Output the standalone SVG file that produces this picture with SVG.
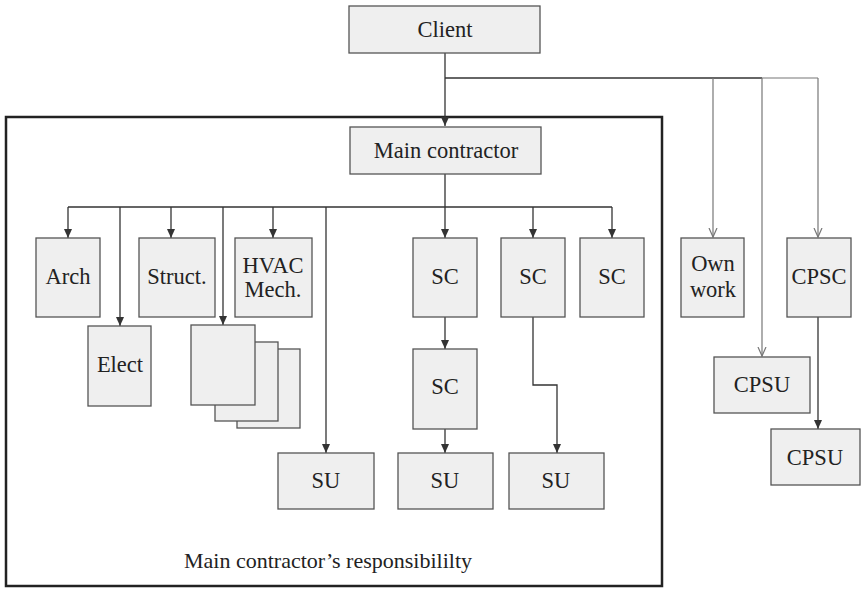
<svg xmlns="http://www.w3.org/2000/svg" width="861" height="589" viewBox="0 0 861 589">
<style>
.box{fill:#efefef;stroke:#555;stroke-width:1.3}
.lbl{font-family:"Liberation Serif","Times New Roman",serif;font-size:22.5px;fill:#222;text-anchor:middle}
.cap{font-size:22px}
.con{fill:none;stroke:#333;stroke-width:1.3}
.thin{fill:none;stroke:#777;stroke-width:1.2}
</style>
<defs>
<marker id="fa" markerUnits="userSpaceOnUse" markerWidth="10" markerHeight="9" refX="9" refY="4" orient="auto">
<path d="M0,0 L9,4 L0,8 z" fill="#333"/>
</marker>
<marker id="oa" markerUnits="userSpaceOnUse" markerWidth="11" markerHeight="11" refX="9" refY="5" orient="auto">
<path d="M0,1 L9,5 L0,9" fill="none" stroke="#777" stroke-width="1.2"/>
</marker>
</defs>
<rect id="frame" x="6" y="117" width="656" height="469" fill="none" stroke="#222" stroke-width="2.5"/>
<g id="connectors">
<path class="con" d="M445,53 V126" marker-end="url(#fa)"/>
<path class="con" d="M445,78 H762"/>
<path class="thin" d="M762,78 H818"/>
<path class="thin" d="M713,78 V237" marker-end="url(#oa)"/>
<path class="thin" d="M762,78 V356" marker-end="url(#oa)"/>
<path class="thin" d="M818,78 V237" marker-end="url(#oa)"/>
<path class="con" d="M445,174 V207 M68,207 H612"/>
<path class="con" d="M68,207 V238" marker-end="url(#fa)"/>
<path class="con" d="M120,207 V326" marker-end="url(#fa)"/>
<path class="con" d="M171,207 V238" marker-end="url(#fa)"/>
<path class="con" d="M223,207 V325" marker-end="url(#fa)"/>
<path class="con" d="M273,207 V238" marker-end="url(#fa)"/>
<path class="con" d="M326,207 V453" marker-end="url(#fa)"/>
<path class="con" d="M445,207 V238" marker-end="url(#fa)"/>
<path class="con" d="M533,207 V238" marker-end="url(#fa)"/>
<path class="con" d="M612,207 V238" marker-end="url(#fa)"/>
<path class="con" d="M445,317 V349" marker-end="url(#fa)"/>
<path class="con" d="M445,429 V453" marker-end="url(#fa)"/>
<path class="con" d="M533,317 V385 H557 V453" marker-end="url(#fa)"/>
<path class="con" d="M818,317 V429" marker-end="url(#fa)"/>
</g>
<g id="client"><rect class="box" x="349" y="6" width="191" height="47"/><text class="lbl" x="445" y="37">Client</text></g>
<g id="main"><rect class="box" x="350" y="127" width="191" height="47"/><text class="lbl" x="446" y="158">Main contractor</text></g>
<g id="arch"><rect class="box" x="36" y="238" width="64" height="79"/><text class="lbl" x="68" y="284">Arch</text></g>
<g id="struct"><rect class="box" x="139" y="238" width="76" height="79"/><text class="lbl" x="177" y="284">Struct.</text></g>
<g id="hvac"><rect class="box" x="235" y="238" width="77" height="79"/><text class="lbl" x="273" y="273">HVAC</text><text class="lbl" x="273" y="297">Mech.</text></g>
<g id="sc1"><rect class="box" x="413" y="238" width="64" height="79"/><text class="lbl" x="445" y="284">SC</text></g>
<g id="sc2"><rect class="box" x="501" y="238" width="64" height="79"/><text class="lbl" x="533" y="284">SC</text></g>
<g id="sc3"><rect class="box" x="580" y="238" width="64" height="79"/><text class="lbl" x="612" y="284">SC</text></g>
<g id="ownwork"><rect class="box" x="681" y="238" width="63" height="79"/><text class="lbl" x="713" y="271">Own</text><text class="lbl" x="713" y="297">work</text></g>
<g id="cpsc"><rect class="box" x="787" y="238" width="64" height="79"/><text class="lbl" x="819" y="284">CPSC</text></g>
<g id="elect"><rect class="box" x="88" y="326" width="63" height="80"/><text class="lbl" x="120" y="372">Elect</text></g>
<g id="stack"><rect class="box" x="237" y="349" width="63" height="79"/><rect class="box" x="215" y="342" width="63" height="79"/><rect class="box" x="191" y="325" width="64" height="80"/></g>
<g id="scmid"><rect class="box" x="413" y="349" width="64" height="80"/><text class="lbl" x="445" y="394">SC</text></g>
<g id="su1"><rect class="box" x="278" y="453" width="96" height="56"/><text class="lbl" x="326" y="488">SU</text></g>
<g id="su2"><rect class="box" x="398" y="453" width="95" height="56"/><text class="lbl" x="445" y="488">SU</text></g>
<g id="su3"><rect class="box" x="509" y="453" width="95" height="56"/><text class="lbl" x="556" y="488">SU</text></g>
<g id="cpsu1"><rect class="box" x="714" y="357" width="96" height="56"/><text class="lbl" x="762" y="392">CPSU</text></g>
<g id="cpsu2"><rect class="box" x="771" y="429" width="89" height="56"/><text class="lbl" x="815" y="465">CPSU</text></g>
<text class="lbl cap" x="328" y="568">Main contractor’s responsibililty</text>
</svg>
